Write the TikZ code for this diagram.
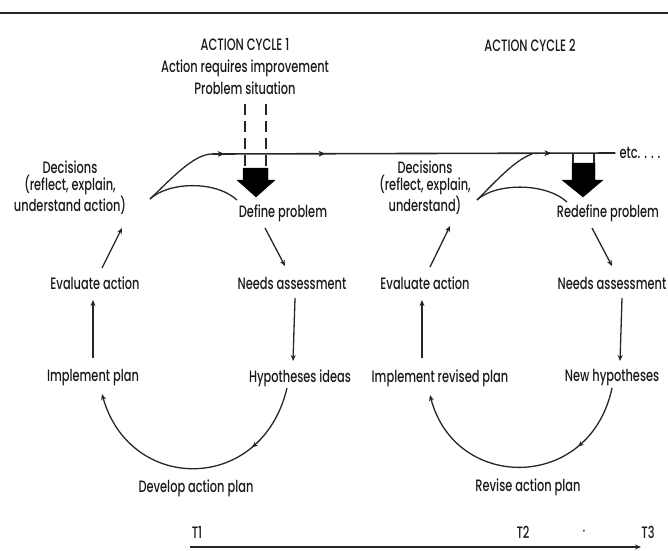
\documentclass[tikz,border=0pt]{standalone}
\usepackage{fontspec}
\setmainfont{Poppins}[FakeStretch=0.69, UprightFont=* Medium]
\usetikzlibrary{arrows.meta,decorations.markings}
\begin{document}
\begin{tikzpicture}[x=1pt,y=-1pt,
  lbl/.style={font=\fontsize{16.5}{17}\selectfont, inner sep=1pt, align=center, text=black!90},
  tip/.style={-{Stealth[length=6pt,width=5pt]}},
  flow/.style={line width=1.3pt, draw=black!85, tip},
  link/.style={line width=1.3pt, draw=black!85},
  midtip/.style={postaction={decorate}, decoration={markings,
      mark=at position #1 with {\arrow{Stealth[length=6pt,width=5pt]}}}},
  bigarrow/.style={fill=black, draw=black, line join=miter},
  guide/.style={line width=1.3pt, draw=black!85, dash pattern=on 11pt off 6pt},
]
\useasboundingbox (0,0) rectangle (668,550);

% heading rule
\draw[line width=2.6pt, black!85] (0,13) -- (668,13);

% headings
\node[lbl] (ac1)  at (245,45) {ACTION CYCLE 1};
\node[lbl] (req)  at (245,68) {Action requires improvement};
\node[lbl] (prob) at (245,88) {Problem situation};
\node[lbl] (ac2)  at (530,45) {ACTION CYCLE 2};

% cycle 1
\node[lbl] (dec1)  at (70,188)  {Decisions\\(reflect, explain,\\understand action)};
\node[lbl] (def)   at (283,213) {Define problem};
\node[lbl] (need1) at (292,283) {Needs assessment};
\node[lbl] (hyp1)  at (300,378) {Hypotheses ideas};
\node[lbl] (dev)   at (196,488) {Develop action plan};
\node[lbl] (impl1) at (93,378)  {Implement plan};
\node[lbl] (eval1) at (95,283)  {Evaluate action};

% cycle 2
\node[lbl] (dec2)   at (425,188) {Decisions\\(reflect, explain,\\understand)};
\node[lbl] (redef)  at (608,213) {Redefine problem};
\node[lbl] (need2)  at (612,283) {Needs assessment};
\node[lbl] (newhyp) at (612,378) {New hypotheses};
\node[lbl] (rev)    at (528,487) {Revise action plan};
\node[lbl] (impl2)  at (440,378) {Implement revised plan};
\node[lbl] (eval2)  at (425,283) {Evaluate action};

\node[lbl] (etc) at (640,153) {etc. . . .};

% time axis labels
\node[lbl] (t1)  at (197,532) {T1};
\node[lbl] (t2)  at (523,532) {T2};
\node[lbl] (sep) at (584,532) {$\cdot$};
\node[lbl] (t3)  at (648,532) {T3};

% time line of actions
\coordinate (L0) at (212,154);
\coordinate (J2) at (532,154);
\draw[link, line width=1.6pt, midtip=0.03, midtip=0.28, midtip=0.84] (L0) -- ([xshift=-3pt]etc.west);

% problem situation feeding cycle 1
\draw[guide] (245,104) -- (245,168);
\draw[guide] (266,104) -- (266,168);
\draw[bigarrow] (243,168) -- (268,168) -- (268,180) -- (275,180) -- (256,197) -- (237,180) -- (243,180) -- cycle;

% cycle 1 connectors
\draw[flow] ([shift={(-18,15)}]def.center) -- ([shift={(-7,-17)}]need1.center);
\draw[flow] ([shift={(3,15)}]need1.center) -- ([shift={(-7,-17)}]hyp1.center);
\draw[flow, midtip=0.27] ([shift={(-13,10)}]hyp1.center) .. controls +(-25,106) and +(28,100) .. ([shift={(9,16)}]impl1.center);
\draw[flow] ([shift={(0,-20)}]impl1.center) -- ([shift={(-2,17)}]eval1.center);
\draw[flow] ([shift={(7,-15)}]eval1.center) -- ([shift={(52,40)}]dec1.center);
\draw[link] ([shift={(80,11)}]dec1.center) .. controls (172,178) and (194,154) .. (L0);
\draw[link] ([shift={(80,11)}]dec1.center) .. controls (168,182) and (215,180) .. ([shift={(-46,-13)}]def.center);

% redefined problem feeding cycle 2
\draw[link] (573,154) -- (573,163);
\draw[link] (594,154) -- (594,163);
\draw[bigarrow] (572,163) -- (595,163) -- (595,180) -- (603,180) -- (583,197) -- (562,180) -- (572,180) -- cycle;

% cycle 2 connectors
\draw[flow] ([shift={(-16,15)}]redef.center) -- ([shift={(0,-17)}]need2.center);
\draw[flow] ([shift={(10,15)}]need2.center) -- ([shift={(8,-17)}]newhyp.center);
\draw[flow, midtip=0.27] ([shift={(0,10)}]newhyp.center) .. controls +(-22,104) and +(25,97) .. ([shift={(-10,17)}]impl2.center);
\draw[flow] ([shift={(-18,-20)}]impl2.center) -- ([shift={(-3,17)}]eval2.center);
\draw[flow] ([shift={(5,-16)}]eval2.center) -- ([shift={(25,38)}]dec2.center);
\draw[link] ([shift={(52,12)}]dec2.center) .. controls (497,180) and (515,160) .. (J2);
\draw[link] ([shift={(52,12)}]dec2.center) .. controls (495,183) and (545,182) .. ([shift={(-41,-11)}]redef.center);

% time axis
\draw[flow, line width=1.6pt] ([shift={(-7,15)}]t1.center) -- ([shift={(-7,15)}]t3.center);
\end{tikzpicture}
\end{document}
